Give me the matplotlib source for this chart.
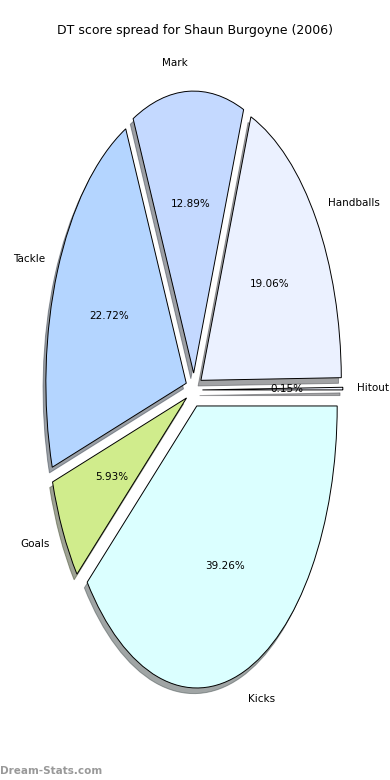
import matplotlib
matplotlib.use("Agg")
import matplotlib.pyplot as plt

labels = ["Hitout", "Handballs", "Mark", "Tackle", "Goals", "Kicks"]
values = [0.15, 19.06, 12.89, 22.72, 5.93, 39.26]
colors = ["#f0f4ff", "#ebf1ff", "#c4d9ff", "#b4d5ff", "#d0ec8c", "#dbffff"]
explode = [0.06] * len(values)

fig = plt.figure(figsize=(3.9, 7.8), dpi=100)
ax = fig.add_axes([18.5 / 390, 37.5 / 780, 351 / 390, 705 / 780])
wedges, texts, autotexts = ax.pie(
    values, labels=labels, colors=colors, explode=explode,
    shadow=dict(ox=-0.0144, oy=-0.0144),
    autopct="%.2f%%", startangle=0, counterclock=True,
    wedgeprops=dict(edgecolor="black", linewidth=0.7),
    textprops=dict(fontsize=7.5),
)
ax.set_aspect("auto")
ax.set_xlim(-1.25, 1.25)
ax.set_ylim(-1.25, 1.25)
fig.text(0.5, 1 - 30.5 / 780, "DT score spread for Shaun Burgoyne (2006)",
         ha="center", va="center", fontsize=9)
fig.text(0.0, 1 - 771 / 780, "Dream-Stats.com", ha="left", va="center",
         fontsize=7.5, color="#999999", fontweight="semibold")
fig.savefig("out.png", dpi=100)
